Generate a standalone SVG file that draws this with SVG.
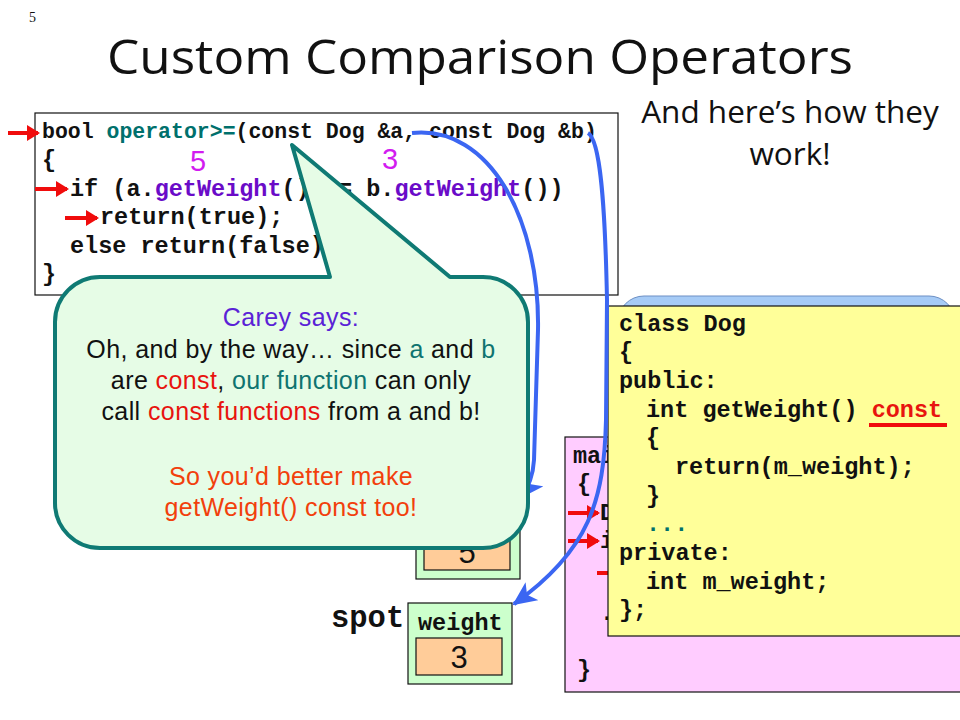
<svg xmlns="http://www.w3.org/2000/svg" width="960" height="720" viewBox="0 0 960 720">
<style>
.code{font-family:"Liberation Mono","Courier New",monospace;font-weight:bold;font-size:23.5px;fill:#111}
.l1{font-size:21.5px}
.big{font-size:30.5px}
.teal{fill:#00706C}
.purp{fill:#6A0BC8}
.mag{font-family:"Liberation Sans",Arial,sans-serif;font-size:29px;fill:#D21CF0}
.comic{font-family:"Open Sans","Liberation Sans",sans-serif}
.say{font-family:"Liberation Sans",Arial,sans-serif;font-size:25px;letter-spacing:0.4px;fill:#111;text-anchor:middle}
.carey{fill:#5A22D6}
.red{fill:#E8140F}
.ora{fill:#F2400C}
.ct{fill:#0F7470}
.rarrow{stroke:#F00C0C;stroke-width:4;fill:none}
.barrow{stroke:#3B66F2;stroke-width:4;fill:none}
.digit{font-family:"Liberation Sans",Arial,sans-serif;font-size:31px;fill:#111;text-anchor:middle}
</style>
<defs>
<marker id="rh" markerWidth="13" markerHeight="16" refX="11" refY="8" orient="auto" markerUnits="userSpaceOnUse">
<path d="M0,0 L13,8 L0,16 Z" fill="#F00C0C"/>
</marker>
<marker id="bh" markerWidth="24" markerHeight="22" refX="22" refY="11" orient="auto" markerUnits="userSpaceOnUse">
<path d="M0,0 L24,11 L0,22 L6,11 Z" fill="#3B66F2"/>
</marker>
</defs>
<rect width="960" height="720" fill="#fff"/>

<text x="29" y="22" font-family="'Liberation Serif',serif" font-size="14" fill="#111">5</text>
<text x="480" y="74" class="comic" font-size="48" text-anchor="middle" textLength="746" lengthAdjust="spacingAndGlyphs" fill="#111">Custom Comparison Operators</text>
<text x="790" y="123" class="comic" font-size="31.5" text-anchor="middle" fill="#111">And here’s how they</text>
<text x="790" y="165" class="comic" font-size="31.5" text-anchor="middle" fill="#111">work!</text>

<g id="operator-code">
<rect x="35" y="113" width="583" height="182" fill="#fff" stroke="#111" stroke-width="1.2"/>
<text x="42" y="138" class="code l1">bool <tspan class="teal">operator&gt;=</tspan>(const Dog &amp;a, const Dog &amp;b)</text>
<text x="42" y="167" class="code">{</text>
<text x="70" y="196" class="code">if (a.<tspan class="purp">getWeight</tspan>() &gt;= b.<tspan class="purp">getWeight</tspan>())</text>
<text x="100" y="224" class="code">return(true);</text>
<text x="70" y="253" class="code">else return(false);</text>
<text x="42" y="281" class="code">}</text>
<text x="198" y="171" class="mag" text-anchor="middle">5</text>
<text x="390" y="169" class="mag" text-anchor="middle">3</text>
<line x1="8" y1="133" x2="38" y2="133" class="rarrow" marker-end="url(#rh)"/>
<line x1="35" y1="189" x2="67" y2="189" class="rarrow" marker-end="url(#rh)"/>
<line x1="65" y1="218" x2="97" y2="218" class="rarrow" marker-end="url(#rh)"/>
</g>

<g id="fido">
<rect x="416" y="498" width="104" height="81" fill="#CCFFCC" stroke="#111" stroke-width="1.2"/>
<rect x="424" y="533" width="86" height="37" fill="#FFCC99" stroke="#111" stroke-width="1.2"/>
<text x="467" y="563" class="digit">5</text>
</g>

<g id="spot">
<text x="331" y="627" class="code big">spot</text>
<rect x="408" y="603" width="104" height="81" fill="#CCFFCC" stroke="#111" stroke-width="1.2"/>
<text x="418" y="630" class="code">weight</text>
<rect x="416" y="638" width="86" height="37" fill="#FFCC99" stroke="#111" stroke-width="1.2"/>
<text x="459" y="668" class="digit">3</text>
</g>

<g id="main-code">
<rect x="565" y="437" width="400" height="255" fill="#FFCCFF" stroke="#111" stroke-width="1.2"/>
<text x="573" y="463" class="code">mai</text>
<text x="577" y="491" class="code">{</text>
<text x="600" y="520" class="code">D</text>
<text x="600" y="548" class="code">i</text>
<text x="600" y="620" class="code">.</text>
<text x="577" y="677" class="code">}</text>
<line x1="568" y1="513" x2="598" y2="513" class="rarrow" marker-end="url(#rh)"/>
<line x1="568" y1="541" x2="598" y2="541" class="rarrow" marker-end="url(#rh)"/>
<line x1="597" y1="573" x2="610" y2="573" class="rarrow"/>
</g>

<g id="dog-class">
<rect x="618" y="296" width="337" height="120" rx="26" fill="#A6CBF6" stroke="#6C8FC4" stroke-width="1"/>
<rect x="608" y="306" width="360" height="330" fill="#FFFF99" stroke="#111" stroke-width="1.2"/>
<text x="619" y="331" class="code">class Dog</text>
<text x="619" y="359" class="code">{</text>
<text x="619" y="388" class="code">public:</text>
<text x="646" y="417" class="code">int getWeight() <tspan class="red">const</tspan></text>
<line x1="869" y1="425" x2="947" y2="425" stroke="#F00C0C" stroke-width="4"/>
<text x="646" y="445" class="code">{</text>
<text x="675" y="474" class="code">return(m_weight);</text>
<text x="646" y="503" class="code">}</text>
<text x="646" y="531" class="code teal">...</text>
<text x="619" y="560" class="code">private:</text>
<text x="646" y="589" class="code">int m_weight;</text>
<text x="619" y="617" class="code">};</text>
</g>

<g id="connectors">
<path d="M412,133 C490,125 540,220 538,330 L534,460 C533,478 528,488 521,497" class="barrow" marker-end="url(#bh)"/>
<path d="M588,133 C600,140 605,200 607,300 L606,420 C604,500 590,550 514,604" class="barrow" marker-end="url(#bh)"/>
</g>

<g id="callout">
<path d="M100,277 L330,277 L292,145 L450,277 L483,277 A45,45 0 0 1 528,322 L528,503 A45,45 0 0 1 483,548 L100,548 A45,45 0 0 1 55,503 L55,322 A45,45 0 0 1 100,277 Z" fill="#E6FCE6" stroke="#0F7A74" stroke-width="4" stroke-linejoin="round"/>
<text x="291" y="326" class="say carey">Carey says:</text>
<text x="291" y="358" class="say">Oh, and by the way… since <tspan class="ct">a</tspan> and <tspan class="ct">b</tspan></text>
<text x="291" y="389" class="say">are <tspan class="red">const</tspan>, <tspan class="ct">our function</tspan> can only</text>
<text x="291" y="420" class="say">call <tspan class="red">const functions</tspan> from a and b!</text>
<text x="291" y="485" class="say ora">So you’d better make</text>
<text x="291" y="516" class="say ora">getWeight() const too!</text>
</g>
</svg>
